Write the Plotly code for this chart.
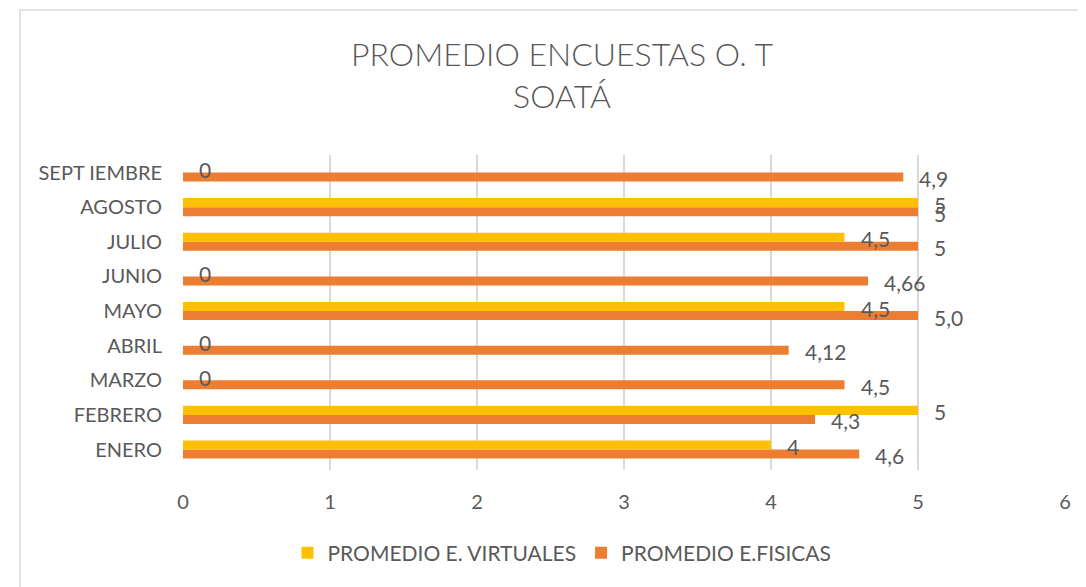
import plotly.graph_objects as go

months = ["ENERO", "FEBRERO", "MARZO", "ABRIL", "MAYO", "JUNIO", "JULIO", "AGOSTO", "SEPT IEMBRE"]
virtuales = [4, 5, 0, 0, 4.5, 0, 4.5, 5, 0]
fisicas = [4.6, 4.3, 4.5, 4.12, 5.0, 4.66, 5, 5, 4.9]
virtuales_labels = ["4", "5", "0", "0", "4,5", "0", "4,5", "5", "0"]
fisicas_labels = ["4,6", "4,3", "4,5", "4,12", "5,0", "4,66", "5", "5", "4,9"]
x_ticks = [0, 1, 2, 3, 4, 5, 6]

YELLOW = "#FFC000"
ORANGE = "#ED7D31"
TEXT = "#595959"
FONT = "Lato"

OFF = 8  # page body margin
W, H = 1086 - OFF, 587 - OFF
L, T = 183 - OFF, 155 - OFF
R = W - (1065 - OFF)
B = H - (470 - OFF)
pw = W - L - R
ph = H - T - B


def px_x(p):
    return (p - OFF - L) / pw


def px_y(p):
    return (H - B - (p - OFF)) / ph


fig = go.Figure()
fig.add_trace(go.Bar(y=months, x=fisicas, orientation="h", name="PROMEDIO E.FISICAS",
                     marker=dict(color=ORANGE, line=dict(width=0)), legendrank=2))
fig.add_trace(go.Bar(y=months, x=virtuales, orientation="h", name="PROMEDIO E. VIRTUALES",
                     marker=dict(color=YELLOW, line=dict(width=0)), legendrank=1))

ann = []
for m, v, t in zip(months, virtuales, virtuales_labels):
    ann.append(dict(x=v, y=m, text=t, showarrow=False, xanchor="left", yanchor="middle",
                    xshift=14, yshift=3, font=dict(family=FONT, size=21, color=TEXT)))
for m, v, t in zip(months, fisicas, fisicas_labels):
    ann.append(dict(x=v, y=m, text=t, showarrow=False, xanchor="left", yanchor="middle",
                    xshift=14, yshift=-6, font=dict(family=FONT, size=21, color=TEXT)))

# chart area frame
fig.add_shape(type="rect", xref="paper", yref="paper", x0=px_x(20), x1=1.2, y0=-0.6, y1=px_y(10),
              line=dict(color="#D9D9D9", width=1.5), layer="below")

fig.update_layout(
    width=W, height=H,
    margin=dict(l=L, r=R, t=T, b=B),
    paper_bgcolor="white", plot_bgcolor="white",
    barmode="group", bargap=0.48, bargroupgap=0,
    title=dict(text="PROMEDIO ENCUESTAS O. T<br>SOATÁ", x=px_x(562), xref="paper", xanchor="center",
               y=1 - (66 - OFF) / H, yanchor="top", yref="container",
               font=dict(family=FONT, size=32, color=TEXT, weight=300)),
    font=dict(family=FONT, color=TEXT),
    annotations=ann,
    showlegend=True,
    legend=dict(orientation="h", x=px_x(562), xanchor="center", y=px_y(553), yanchor="middle",
                font=dict(family=FONT, size=21, color=TEXT), itemwidth=30, traceorder="normal"),
    xaxis=dict(range=[0, 6], tickvals=x_ticks, showgrid=True, gridcolor="#D9D9D9", gridwidth=1.5,
               zeroline=False, showline=False, ticks="", ticklabelstandoff=18,
               tickfont=dict(family=FONT, size=20, color=TEXT)),
    yaxis=dict(categoryorder="array", categoryarray=months, showgrid=False, zeroline=False,
               showline=False, ticks="", ticklabelstandoff=20,
               tickfont=dict(family=FONT, size=20, color=TEXT)),
)

fig.write_html("out.html")
